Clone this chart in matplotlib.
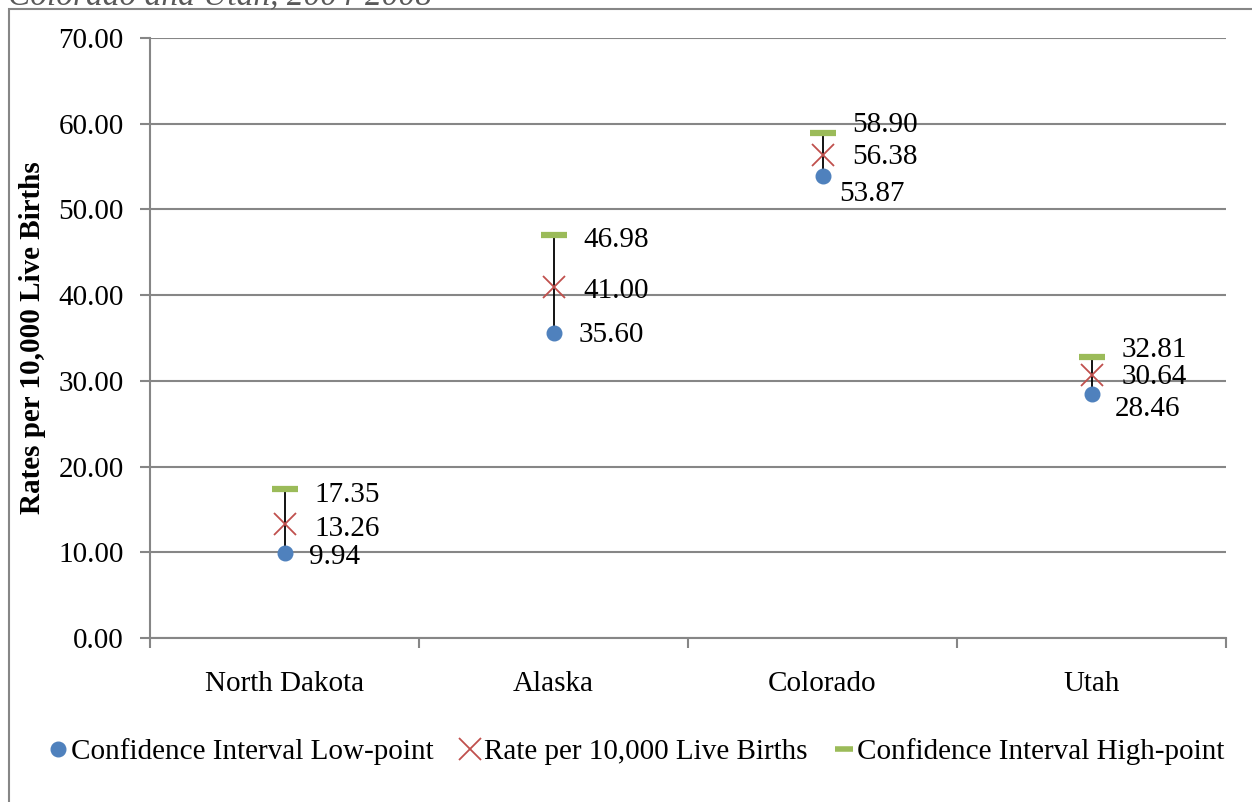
import matplotlib.pyplot as plt
from matplotlib.patches import Rectangle
from matplotlib.lines import Line2D

states = ['North Dakota', 'Alaska', 'Colorado', 'Utah']
ci_low = [9.94, 35.60, 53.87, 28.46]
rate = [13.26, 41.00, 56.38, 30.64]
ci_high = [17.35, 46.98, 58.90, 32.81]

# label offsets in pixels (dx, dy), hand placed like the original
low_off = [(24, -4), (25, -2), (17, -18), (23, -15)]
rate_off = [(30, -5), (30, -4), (30, -2), (30, -2)]
high_off = [(30, -6), (30, -5), (30, 8), (30, 7)]

blue = '#4F81BD'
red = '#C0504D'
green = '#9BBB59'
grid_c = '#868686'
fs = 21

plt.rcParams['font.family'] = ['Liberation Serif', 'DejaVu Serif']

fig = plt.figure(figsize=[12.52, 8.02], dpi=100)
ax = fig.add_axes([150 / 1252, 1 - 638 / 802, 1076 / 1252, 600 / 802])

x = list(range(len(states)))

ax.vlines(x, ci_low, ci_high, color='black', lw=1.3, zorder=2)
ax.plot(x, ci_low, 'o', color=blue, ms=10.5, zorder=4)
ax.plot(x, rate, 'x', color=red, ms=16, mew=1.3, zorder=3)
ax.plot(x, ci_high, '_', color=green, ms=19, mew=4.5, zorder=3)

def put_labels(vals, offs):
    for i, v in enumerate(vals):
        ax.annotate(f'{v:.2f}', (i, v), xytext=(offs[i][0] * 0.72, offs[i][1] * 0.72),
                    textcoords='offset points', ha='left', va='center', fontsize=fs)

put_labels(ci_low, low_off)
put_labels(rate, rate_off)
put_labels(ci_high, high_off)

ax.set_xlim(-0.5, 3.5)
ax.set_ylim(0, 70)
ax.set_yticks(range(0, 71, 10))
ax.set_yticklabels([f'{t:.2f}' for t in range(0, 71, 10)], fontsize=fs)
ax.set_xticks(x)
ax.set_xticklabels(states, fontsize=fs)
ax.set_xticks([-0.5, 0.5, 1.5, 2.5, 3.5], minor=True)
ax.tick_params(axis='x', which='major', length=0, pad=24)
ax.tick_params(axis='x', which='minor', length=7, color=grid_c, width=1.5)
ax.tick_params(axis='y', length=7, color=grid_c, width=1.5, pad=12)
ax.yaxis.grid(True, color=grid_c, lw=1.5)
ax.set_axisbelow(True)
for s in ['top', 'right']:
    ax.spines[s].set_visible(False)
for s in ['left', 'bottom']:
    ax.spines[s].set_color(grid_c)
    ax.spines[s].set_linewidth(1.5)

ax.set_ylabel('Rates per 10,000 Live Births', fontsize=fs, fontweight='bold')
ax.yaxis.set_label_coords(-104 / 1076, 0.5)

handles = [
    Line2D([], [], marker='o', ls='', color=blue, ms=10.5),
    Line2D([], [], marker='x', ls='', color=red, ms=16, mew=1.3),
    Line2D([], [], marker='_', ls='', color=green, ms=13, mew=4),
]
fig.legend(handles, ['Confidence Interval Low-point', 'Rate per 10,000 Live Births',
                     'Confidence Interval High-point'],
           loc='center', bbox_to_anchor=(0.5 + 10 / 1252, 1 - 752 / 802), ncol=3, frameon=False,
           fontsize=fs, handlelength=0.7, handletextpad=0.1, columnspacing=0.9)

# chart frame, cut off at the right and bottom like the source
fig.patches.append(Rectangle((9 / 1252, -0.1), 1.2, 1.1 - 9 / 802, transform=fig.transFigure,
                             fill=False, ec=grid_c, lw=1.5))
fig.text(8 / 1252, 1 + 4 / 802, 'Colorado and Utah, 2004-2008', fontsize=24, style='italic',
         color='#595959', va='center', ha='left')

fig.savefig('out.png', dpi=100)
